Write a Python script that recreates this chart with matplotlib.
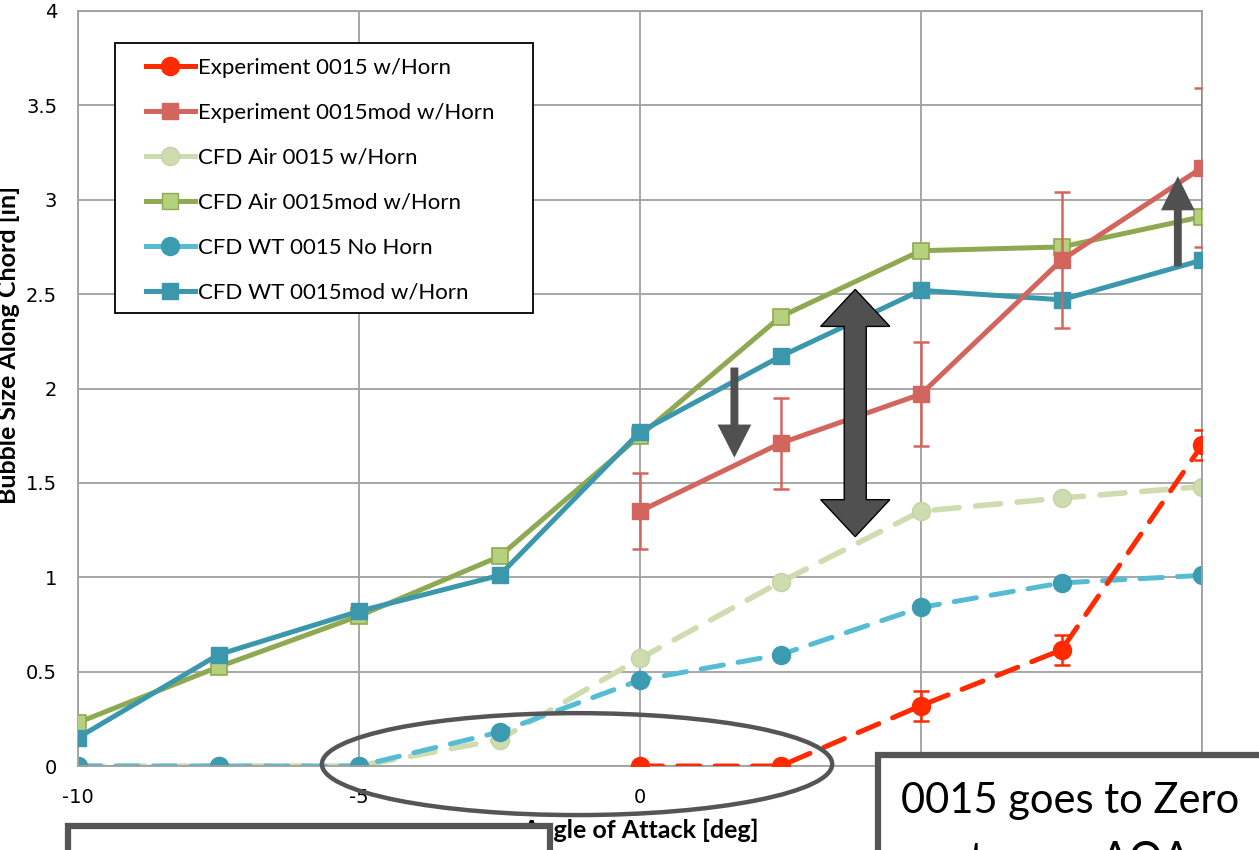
import matplotlib
matplotlib.use("Agg")
import matplotlib.pyplot as plt
from matplotlib.patches import Ellipse, Polygon, Rectangle
from matplotlib.lines import Line2D

# ---- data ----
aoa_all = [-10, -7.5, -5, -2.5, 0, 2.5, 5, 7.5, 10]
aoa_exp = [0, 2.5, 5, 7.5, 10]

exp_0015 = [0, 0, 0.32, 0.615, 1.70]
exp_0015_err = [0, 0, 0.08, 0.08, 0.08]

exp_0015mod = [1.35, 1.71, 1.97, 2.68, 3.17]
exp_0015mod_err = [0.20, 0.24, 0.275, 0.36, 0.42]

cfd_air_0015 = [0, 0, 0, 0.14, 0.57, 0.975, 1.35, 1.42, 1.48]
cfd_air_0015mod = [0.23, 0.525, 0.795, 1.11, 1.75, 2.38, 2.73, 2.75, 2.91]
cfd_wt_0015 = [0, 0, 0, 0.18, 0.455, 0.59, 0.84, 0.97, 1.01]
cfd_wt_0015mod = [0.15, 0.59, 0.82, 1.01, 1.77, 2.17, 2.52, 2.47, 2.68]

x_ticks = [-10, -5, 0, 5, 10]
x_tick_labels = ['-10', '-5', '0', '', '']   # 5 and 10 sit under the text box
y_ticks = [0, 0.5, 1, 1.5, 2, 2.5, 3, 3.5, 4]
y_tick_labels = ['0', '0.5', '1', '1.5', '2', '2.5', '3', '3.5', '4']

W, H = 1259, 850
fig = plt.figure(figsize=(W / 100, H / 100), dpi=100)
ax = fig.add_axes([78 / W, (H - 766) / H, (1202 - 78) / W, (766 - 11) / H])
ax.set_xlim(-10, 10)
ax.set_ylim(0, 4)

grid_col = '#a0a0a0'
ax.grid(True, color=grid_col, linewidth=1.3)
ax.set_axisbelow(True)
for sp in ax.spines.values():
    sp.set_color(grid_col)
    sp.set_linewidth(1.3)

ax.set_xticks(x_ticks)
ax.set_xticklabels(x_tick_labels)
ax.set_yticks(y_ticks)
ax.set_yticklabels(y_tick_labels)
ax.tick_params(axis='both', length=0, labelsize=14)
ax.tick_params(axis='x', pad=16)
ax.tick_params(axis='y', pad=15)

lw = 3.6
dash = (0, (4.5, 3))

# CFD series first, experiments on top
ax.plot(aoa_all, cfd_air_0015, color='#cfdcb0', lw=lw + 0.4, linestyle=dash,
        dash_capstyle='round', marker='o', ms=13, mfc='#cfdcb0', mec='#c4d3a3',
        label='CFD Air 0015 w/Horn', zorder=2)
ax.plot(aoa_all, cfd_wt_0015, color='#56bcd3', lw=lw, linestyle=dash,
        dash_capstyle='round', marker='o', ms=13, mfc='#3b9bb1', mec='#3b9bb1',
        label='CFD WT 0015 No Horn', zorder=2)
ax.plot(aoa_all, cfd_air_0015mod, color='#8fa952', lw=lw, marker='s', ms=12,
        mfc='#b5d17e', mec='#8fa952', mew=1.2,
        label='CFD Air 0015mod w/Horn', zorder=3)
ax.plot(aoa_all, cfd_wt_0015mod, color='#3b97ac', lw=lw, marker='s', ms=12,
        mfc='#3b97ac', mec='#3b97ac',
        label='CFD WT 0015mod w/Horn', zorder=3)

ax.errorbar(aoa_exp, exp_0015mod, yerr=exp_0015mod_err, color='#d2665e', lw=lw,
            marker='s', ms=12, mfc='#d2665e', mec='#d2665e',
            ecolor='#d2665e', elinewidth=1.8, capsize=6, capthick=1.8,
            label='Experiment 0015mod w/Horn', zorder=4)
ax.errorbar(aoa_exp, exp_0015, yerr=exp_0015_err, color='#ff2a00', lw=lw,
            linestyle=dash, dash_capstyle='round', marker='o', ms=13,
            mfc='#ff2a00', mec='#ff2a00',
            ecolor='#ff2a00', elinewidth=1.8, capsize=6, capthick=1.8,
            label='Experiment 0015 w/Horn', zorder=4)

# legend in the original order, frame drawn by hand
handles = [
    Line2D([], [], color='#ff2a00', lw=lw, marker='o', ms=13, mfc='#ff2a00', mec='#ff2a00'),
    Line2D([], [], color='#d2665e', lw=lw, marker='s', ms=12, mfc='#d2665e', mec='#d2665e'),
    Line2D([], [], color='#cfdcb0', lw=lw, marker='o', ms=13, mfc='#cfdcb0', mec='#c4d3a3'),
    Line2D([], [], color='#8fa952', lw=lw, marker='s', ms=12, mfc='#b5d17e', mec='#8fa952'),
    Line2D([], [], color='#56bcd3', lw=lw, marker='o', ms=13, mfc='#3b9bb1', mec='#3b9bb1'),
    Line2D([], [], color='#3b97ac', lw=lw, marker='s', ms=12, mfc='#3b97ac', mec='#3b97ac'),
]
labels = ['Experiment 0015 w/Horn', 'Experiment 0015mod w/Horn', 'CFD Air 0015 w/Horn',
          'CFD Air 0015mod w/Horn', 'CFD WT 0015 No Horn', 'CFD WT 0015mod w/Horn']
leg_frame = Rectangle((115 / W, 1 - 313 / H), (533 - 115) / W, (313 - 43) / H,
                      transform=fig.transFigure, facecolor='white', edgecolor='black',
                      lw=1.3, zorder=5)
fig.add_artist(leg_frame)
leg = fig.legend(handles, labels, loc='upper left',
                 bbox_to_anchor=(146 / W, 1 - 58 / H), bbox_transform=fig.transFigure,
                 prop={'family': 'Lato', 'size': 16}, frameon=False,
                 borderpad=0, labelspacing=1.12,
                 handlelength=2.2, handletextpad=0.15, numpoints=1, borderaxespad=0)
leg.set_zorder(6)

# axis labels
fig.text(640 / W, 1 - 830 / H, 'Angle of Attack [deg]', ha='center', va='center',
         family='Lato', weight='bold', fontsize=18)
fig.text(-3 / W, 1 - 345 / H, 'Bubble Size Along Chord [in]', ha='left', va='center',
         rotation=90, family='Lato', weight='bold', fontsize=18)

# annotations: ellipse and arrows (data coordinates)
ell = Ellipse((-1.12, 0.01), 9.08, 0.54, fill=False, edgecolor='#555555', lw=3.2,
              clip_on=False, zorder=5)
ax.add_patch(ell)

arrow_col = '#505050'
cx, sw, hw = 3.83, 0.196, 0.615
big = Polygon([(cx, 2.525), (cx + hw, 2.329), (cx + sw, 2.329), (cx + sw, 1.411),
               (cx + hw, 1.411), (cx, 1.215), (cx - hw, 1.411), (cx - sw, 1.411),
               (cx - sw, 2.329), (cx - hw, 2.329)],
              closed=True, facecolor=arrow_col, edgecolor='black', lw=1, zorder=6)
ax.add_patch(big)

dx, sw2, hw2 = 1.68, 0.07, 0.30
down = Polygon([(dx - sw2, 2.111), (dx + sw2, 2.111), (dx + sw2, 1.809), (dx + hw2, 1.809),
                (dx, 1.634), (dx - hw2, 1.809), (dx - sw2, 1.809)],
               closed=True, facecolor=arrow_col, edgecolor='none', zorder=6)
ax.add_patch(down)

ux = 9.57
up = Polygon([(ux - sw2, 2.647), (ux + sw2, 2.647), (ux + sw2, 2.944), (ux + hw2, 2.944),
              (ux, 3.125), (ux - hw2, 2.944), (ux - sw2, 2.944)],
             closed=True, facecolor=arrow_col, edgecolor='none', zorder=6)
ax.add_patch(up)

# text boxes (cut off by the picture edge)
box_r = Rectangle((878 / W, -0.1), 0.5, 1 - 755 / H + 0.1, transform=fig.transFigure,
                  facecolor='white', edgecolor='#555555', lw=4.5, zorder=7)
fig.add_artist(box_r)
fig.text(1070 / W, 1 - 813 / H, '0015 goes to Zero', ha='center', va='baseline',
         family='Lato', fontsize=30, zorder=8)
fig.text(1070 / W, 1 - 872 / H, 'at same AOA', ha='center', va='baseline',
         family='Lato', fontsize=30, zorder=8)

box_l = Rectangle((68 / W, -0.1), (550 - 68) / W, 1 - 826 / H + 0.1,
                  transform=fig.transFigure, facecolor='white', edgecolor='#555555',
                  lw=4.5, zorder=7)
fig.add_artist(box_l)

fig.savefig('out.png', dpi=100)
